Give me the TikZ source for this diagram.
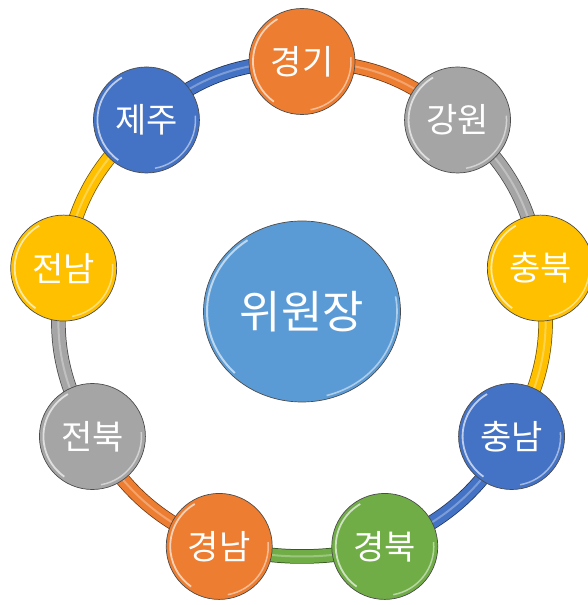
\documentclass[tikz,border=0pt]{standalone}
\usepackage{fontspec}
\setmainfont{Noto Sans CJK KR}
\usepackage{tikz}
\usetikzlibrary{calc}
\usetikzlibrary{positioning,shapes.geometric}
\definecolor{cOrange}{HTML}{ED7D31}
\definecolor{cGray}{HTML}{A5A5A5}
\definecolor{cYellow}{HTML}{FFC000}
\definecolor{cBlue}{HTML}{4472C4}
\definecolor{cGreen}{HTML}{70AD47}
\definecolor{cChair}{HTML}{5B9BD5}
\pgfdeclarelayer{background}
\pgfsetlayers{background,main}

\begin{document}
\begin{tikzpicture}[
x=1pt, y=1pt,
Region/.style={circle,minimum size=106pt,inner sep=0pt,fill=#1,draw=black!70,line width=0.7pt,
  text=white,font=\fontsize{34}{34}\selectfont,Shine},
Shine/.style={path picture={
  \draw[white,opacity=.65,line width=1.8pt] ($(path picture bounding box.center)+(120:49pt)$)
     arc[start angle=120,end angle=235,radius=49pt];
  \draw[white,opacity=.5,line width=1.5pt] ($(path picture bounding box.center)+(-80:49pt)$)
     arc[start angle=-80,end angle=5,radius=49pt];}},
Chair/.style={ellipse,minimum width=197pt,minimum height=181pt,inner sep=0pt,fill=cChair,
  draw=black!70,line width=0.7pt,text=white,font=\fontsize{45}{45}\selectfont,
  path picture={
  \draw[white,opacity=.6,line width=2pt] ($(path picture bounding box.center)+(125:95pt and 87pt)$)
     arc[start angle=125,end angle=225,x radius=95pt,y radius=87pt];
  \draw[white,opacity=.5,line width=1.6pt] ($(path picture bounding box.center)+(-75:95pt and 87pt)$)
     arc[start angle=-75,end angle=10,x radius=95pt,y radius=87pt];}},
Links/.style={draw=#1,line width=13pt,preaction={draw=#1!45!black,line width=14.5pt},
  postaction={draw=#1!70!white,line width=2pt}}
]
\useasboundingbox (0,0) rectangle (588,605);
\clip (0,0) rectangle (588,605);

% centre of the ring
\coordinate (O) at (302,293.5);

\node[Chair] (chair) at (O) {위원장};

% regions on the ring, clockwise from the top
\node[Region=cOrange] (gyeonggi)  at ($(O)+(90:242 and 250)$)   {경기};
\node[Region=cGray]   (gangwon)   at ($(O)+(50:242 and 250)$)   {강원};
\node[Region=cYellow] (chungbuk)  at ($(O)+(10:242 and 250)$)   {충북};
\node[Region=cBlue]   (chungnam)  at ($(O)+(-30:242 and 250)$)  {충남};
\node[Region=cGreen]  (gyeongbuk) at ($(O)+(-70:242 and 250)$)  {경북};
\node[Region=cOrange] (gyeongnam) at ($(O)+(-110:242 and 250)$) {경남};
\node[Region=cGray]   (jeonbuk)   at ($(O)+(-150:242 and 250)$) {전북};
\node[Region=cYellow] (jeonnam)   at ($(O)+(170:242 and 250)$)  {전남};
\node[Region=cBlue]   (jeju)      at ($(O)+(130:242 and 250)$)  {제주};

% links behind the circles
\begin{pgfonlayer}{background}
\draw[Links=cOrange] (gyeonggi.center)  to[bend left=20] (gangwon.center);
\draw[Links=cGray]   (gangwon.center)   to[bend left=20] (chungbuk.center);
\draw[Links=cYellow] (chungbuk.center)  to[bend left=20] (chungnam.center);
\draw[Links=cBlue]   (chungnam.center)  to[bend left=18] (gyeongbuk.center);
\draw[Links=cGreen]  (gyeongbuk.center) to[bend left=12] (gyeongnam.center);
\draw[Links=cOrange] (gyeongnam.center) to[bend left=18] (jeonbuk.center);
\draw[Links=cGray]   (jeonbuk.center)   to[bend left=20] (jeonnam.center);
\draw[Links=cYellow] (jeonnam.center)   to[bend left=20] (jeju.center);
\draw[Links=cBlue]   (jeju.center)      to[bend left=20] (gyeonggi.center);
\end{pgfonlayer}

\end{tikzpicture}
\end{document}
